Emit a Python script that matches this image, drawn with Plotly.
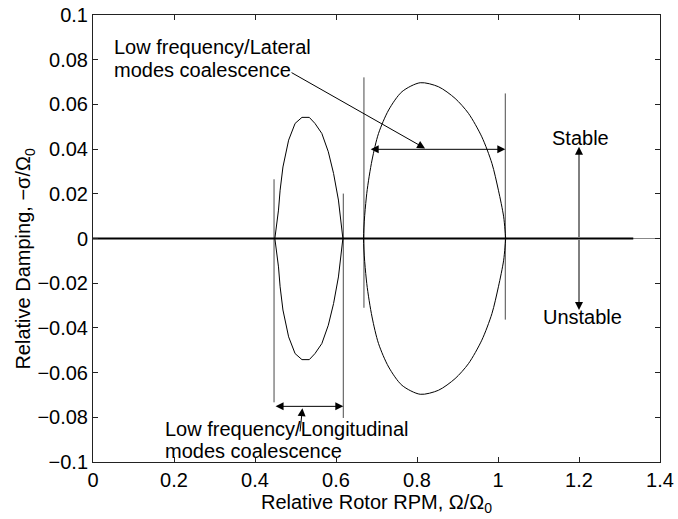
import plotly.graph_objects as go

# ---- data ----
ell1_x = [0.449, 0.458, 0.462, 0.469, 0.483, 0.499, 0.516, 0.534, 0.548, 0.565, 0.581, 0.594, 0.606, 0.617]
ell1_y = [0.0, 0.0127, 0.0216, 0.032, 0.044, 0.0515, 0.0542, 0.0542, 0.0515, 0.047, 0.0388, 0.0291, 0.0172, 0.0]

ell2_x = [0.668, 0.676, 0.689, 0.705, 0.730, 0.763, 0.808, 0.853, 0.894, 0.927, 0.960, 0.985, 1.001, 1.014, 1.019]
ell2_y = [0.0, 0.0202, 0.0351, 0.047, 0.0575, 0.0657, 0.0697, 0.0679, 0.0627, 0.056, 0.0455, 0.0336, 0.0216, 0.0097, 0.0]

vline_x = [0.447, 0.618, 0.669, 1.018]
vline_top = [0.0265, 0.0201, 0.0721, 0.0649]
vline_bot = [-0.0733, -0.0803, -0.031, -0.0363]

zero_x = [0.0, 1.334]
zero_y = [0.0, 0.0]

x_ticks = [0, 0.2, 0.4, 0.6, 0.8, 1.0, 1.2, 1.4]
x_ticklabels = ["0", "0.2", "0.4", "0.6", "0.8", "1", "1.2", "1.4"]
y_ticks = [-0.1, -0.08, -0.06, -0.04, -0.02, 0, 0.02, 0.04, 0.06, 0.08, 0.1]
y_ticklabels = ["\u22120.1", "\u22120.08", "\u22120.06", "\u22120.04", "\u22120.02", "0",
                "0.02", "0.04", "0.06", "0.08", "0.1"]

x_title = "Relative Rotor RPM, \u03a9/\u03a9<sub>0</sub>"
y_title = "Relative Damping, \u2212\u03c3/\u03a9<sub>0</sub>"

lat_lines = ["Low frequency/Lateral", "modes coalescence"]
lat_line_x = 0.047
lat_line_y = [0.0858, 0.0752]
lat_ptr = ((0.4866, 0.0746), (0.820, 0.0403))
lat_span = ((0.682, 0.0399), (1.018, 0.0399))

lon_lines = ["Low frequency/Longitudinal", "modes coalescence"]
lon_line_x = 0.172
lon_line_y = [-0.0851, -0.0951]
lon_ptr = ((0.511, -0.087), (0.517, -0.0759))
lon_span = ((0.447, -0.0751), (0.618, -0.0751))

stab_arrow = ((1.2, 0.0), (1.2, 0.041))
unstab_arrow = ((1.2, 0.0), (1.2, -0.032))
stab_text_pos = (1.204, 0.0448)
unstab_text_pos = (1.208, -0.0351)

FONT = "Liberation Sans, Arial, Helvetica, sans-serif"
FS = 20
FS_ANN = 20

fig = go.Figure()

# vertical marker lines
vx, vy = [], []
for x, t, b in zip(vline_x, vline_top, vline_bot):
    vx += [x, x, None]
    vy += [t, b, None]
fig.add_trace(go.Scatter(x=vx, y=vy, mode="lines", line=dict(color="#4a4a4a", width=1),
                         hoverinfo="skip", showlegend=False))

# ellipse 1 (closed)
e1x = ell1_x + ell1_x[::-1]
e1y = ell1_y + [-v for v in ell1_y[::-1]]
fig.add_trace(go.Scatter(x=e1x, y=e1y, mode="lines", line=dict(color="black", width=1),
                         showlegend=False))

# ellipse 2 (closed)
e2x = ell2_x + ell2_x[::-1]
e2y = ell2_y + [-v for v in ell2_y[::-1]]
fig.add_trace(go.Scatter(x=e2x, y=e2y, mode="lines",
                         line=dict(color="black", width=1, shape="spline", smoothing=0.8),
                         showlegend=False))

# thick zero line
fig.add_trace(go.Scatter(x=zero_x, y=zero_y, mode="lines", line=dict(color="black", width=2.2),
                         showlegend=False))


def arrow(tail, head, side="end"):
    fig.add_annotation(x=head[0], y=head[1], ax=tail[0], ay=tail[1],
                       xref="x", yref="y", axref="x", ayref="y",
                       showarrow=True, arrowhead=2, arrowsize=1.6, arrowwidth=1,
                       arrowcolor="black", arrowside=side, text="", standoff=0, startstandoff=0)


arrow(lat_ptr[0], lat_ptr[1])
arrow(lat_span[0], lat_span[1], "end+start")
arrow(lon_ptr[0], lon_ptr[1])
arrow(lon_span[0], lon_span[1], "end+start")
arrow(stab_arrow[0], stab_arrow[1])
arrow(unstab_arrow[0], unstab_arrow[1])

tfont = dict(family=FONT, size=FS_ANN, color="black")
for txt, yy in zip(lat_lines, lat_line_y):
    fig.add_annotation(x=lat_line_x, y=yy, text=txt, showarrow=False,
                       xanchor="left", yanchor="middle", font=tfont)
for txt, yy in zip(lon_lines, lon_line_y):
    fig.add_annotation(x=lon_line_x, y=yy, text=txt, showarrow=False,
                       xanchor="left", yanchor="middle", font=tfont)
fig.add_annotation(x=stab_text_pos[0], y=stab_text_pos[1], text="Stable", showarrow=False,
                   xanchor="center", yanchor="middle", font=tfont)
fig.add_annotation(x=unstab_text_pos[0], y=unstab_text_pos[1], text="Unstable", showarrow=False,
                   xanchor="center", yanchor="middle", font=tfont)

# y axis title as rotated annotation
fig.add_annotation(x=-0.12, y=0.455, xref="paper", yref="paper", text=y_title,
                   textangle=-90, showarrow=False, xanchor="center", yanchor="middle",
                   font=dict(family=FONT, size=FS, color="black"))

axis_common = dict(showline=True, linecolor="#222222", linewidth=1, mirror="ticks",
                   ticks="inside", ticklen=5, tickcolor="#222222", showgrid=False,
                   tickfont=dict(family=FONT, size=FS, color="black"))

fig.update_xaxes(range=[0, 1.4], tickvals=x_ticks, ticktext=x_ticklabels,
                 zeroline=False,
                 title=dict(text=x_title,
                            font=dict(family=FONT, size=FS, color="black"), standoff=4),
                 **axis_common)
fig.update_yaxes(range=[-0.1, 0.1], tickvals=y_ticks, ticktext=y_ticklabels,
                 zeroline=True, zerolinecolor="#888888", zerolinewidth=1,
                 **axis_common)

fig.update_layout(width=678, height=519, margin=dict(l=93, r=18, t=15, b=57, autoexpand=False),
                  plot_bgcolor="white", paper_bgcolor="white",
                  font=dict(family=FONT, size=FS, color="black"))

fig.write_html("out.html")
